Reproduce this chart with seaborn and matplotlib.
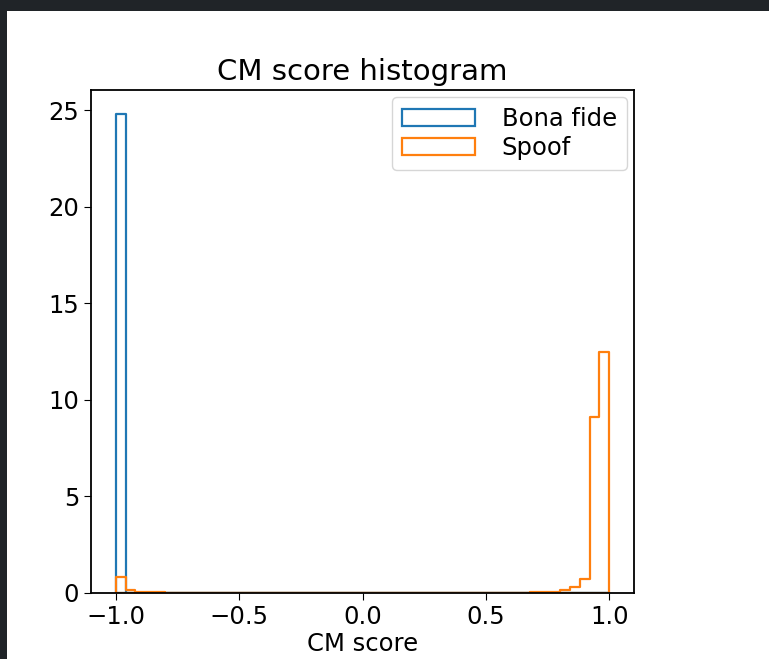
import numpy as np
import matplotlib
matplotlib.use("Agg")
import matplotlib.pyplot as plt
from matplotlib.patches import Rectangle
import seaborn as sns

# --- Data (density per bin, 50 bins over [-1, 1]) ---
bin_edges = np.linspace(-1.0, 1.0, 51).tolist()

bona_scores = [-0.98]
bona_density = [24.8]

spoof_scores = [-0.98, -0.94, -0.90, -0.86, -0.82,
                0.70, 0.74, 0.78, 0.82, 0.86, 0.90, 0.94, 0.98]
spoof_density = [0.83, 0.15, 0.05, 0.05, 0.05,
                 0.05, 0.05, 0.05, 0.15, 0.30, 0.72, 9.1, 12.5]

labels = ["Bona fide", "Spoof"]
colors = ["#1f77b4", "#ff7f0e"]
yticks = [0, 5, 10, 15, 20, 25]

# --- Figure with the dark screenshot frame ---
fig = plt.figure(figsize=(7.69, 6.59), dpi=100)
fig.patch.set_facecolor("#202428")
fig.add_artist(Rectangle((7 / 769, 0), 1, (659 - 11) / 659,
                         transform=fig.transFigure, facecolor="white",
                         edgecolor="none", zorder=-1))

ax = fig.add_axes([91 / 769, 66 / 659, 543 / 769, 503 / 659])

for scores, dens, lab, col in zip([bona_scores, spoof_scores],
                                  [bona_density, spoof_density],
                                  labels, colors):
    sns.histplot(x=scores, weights=dens, bins=bin_edges, stat="count",
                 element="step", fill=True, color=col, facecolor="none",
                 edgecolor=col, linewidth=1.6, label=lab, ax=ax)

ax.set_xlim(-1.1, 1.1)
ax.set_ylim(0, 26.04)
ax.set_yticks(yticks)
ax.set_xticks([-1.0, -0.5, 0.0, 0.5, 1.0])
ax.set_ylabel("")
ax.set_xlabel("CM score", fontsize=17.5, labelpad=2)
ax.set_title("CM score histogram", fontsize=21, pad=7)
ax.tick_params(labelsize=17.5, length=5)
for sp in ax.spines.values():
    sp.set_linewidth(1.3)

ax.legend(loc="upper right", fontsize=17.5, handlelength=3.0,
          handletextpad=1.1, borderpad=0.4, labelspacing=0.2,
          borderaxespad=0.3)

fig.savefig("out.png", dpi=100, facecolor=fig.get_facecolor())
